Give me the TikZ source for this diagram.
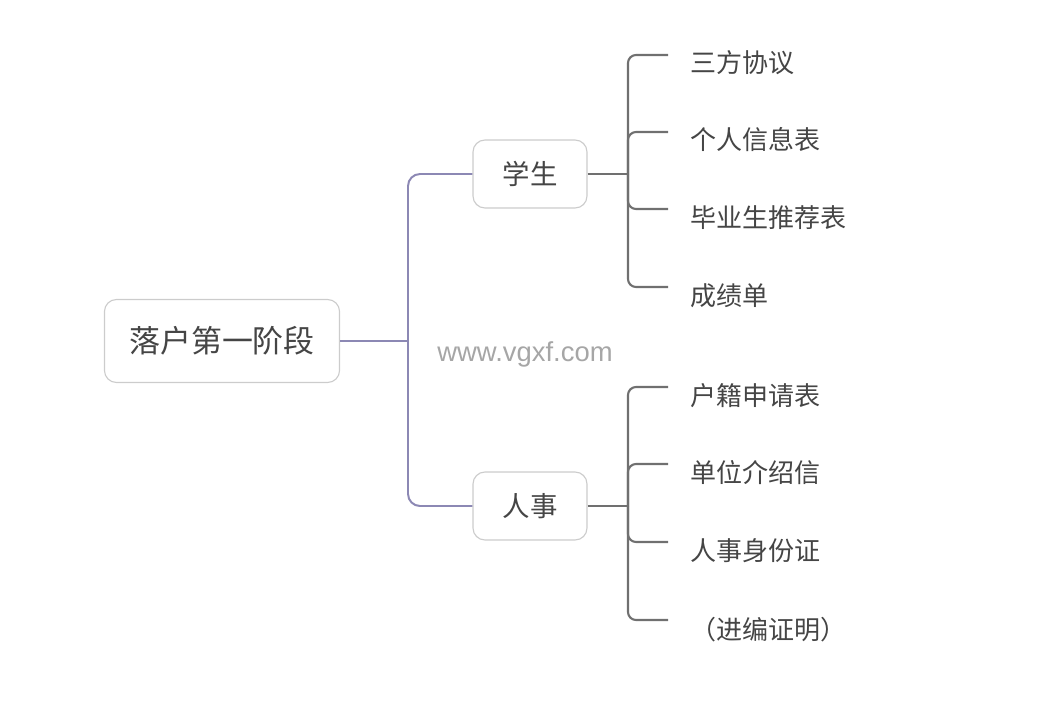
\documentclass[tikz,border=0pt]{standalone}
\usepackage{fontspec}
\setmainfont{Noto Sans CJK SC}
\newfontfamily\wmfont{Liberation Sans}
\usepackage{tikz}

\definecolor{trunkline}{HTML}{8C88B4}
\definecolor{branchline}{HTML}{707070}
\definecolor{boxline}{HTML}{CCCCCC}
\definecolor{txt}{HTML}{454545}

\tikzset{
    rootbox/.style={draw=boxline, thick, rounded corners=0.3cm, fill=white, text=txt,
        minimum width=5.875cm, minimum height=2.075cm, font=\fontsize{22}{26}\selectfont},
    subbox/.style={draw=boxline, thick, rounded corners=0.3cm, fill=white, text=txt,
        minimum width=2.85cm, minimum height=1.7cm, font=\fontsize{19.5}{23}\selectfont},
    leaf/.style={anchor=west, inner sep=0pt, text=txt, font=\fontsize{18.5}{22}\selectfont},
    trunk/.style={trunkline, line width=1.4pt},
    branch/.style={branchline, line width=1.5pt}
}

\begin{document}
\begin{tikzpicture}[x=0.025cm, y=-0.025cm]
        \useasboundingbox (0, 0) rectangle (1047, 711);

        \node[rootbox] (root) at (222, 341) {落户第一阶段};
        \node[subbox] (xs) at (530, 174) {学生};
        \node[subbox] (rs) at (530, 506) {人事};

        \coordinate (tk) at (408, 341);
        \draw[trunk] (root.east) -- (tk);
        \draw[trunk, rounded corners=0.3cm] (xs.west) -| (tk) |- (rs.west);

        % 学生
        \coordinate (xb) at (628, 174);
        \draw[branch] (xs.east) -- (xb);
        \coordinate (e1) at (668, 55);
        \coordinate (e2) at (668, 132);
        \coordinate (e3) at (668, 209);
        \coordinate (e4) at (668, 287);
        \draw[branch, rounded corners=0.2cm] (xb) |- (e1);
        \draw[branch, rounded corners=0.2cm] (xb) |- (e2);
        \draw[branch, rounded corners=0.2cm] (xb) |- (e3);
        \draw[branch, rounded corners=0.2cm] (xb) |- (e4);
        \node[leaf] (l1) at (690, 63) {三方协议};
        \node[leaf] (l2) at (690, 140) {个人信息表};
        \node[leaf] (l3) at (690, 218) {毕业生推荐表};
        \node[leaf] (l4) at (690, 296) {成绩单};

        % 人事
        \coordinate (rb) at (628, 506);
        \draw[branch] (rs.east) -- (rb);
        \coordinate (e5) at (668, 387);
        \coordinate (e6) at (668, 464);
        \coordinate (e7) at (668, 542);
        \coordinate (e8) at (668, 620);
        \draw[branch, rounded corners=0.2cm] (rb) |- (e5);
        \draw[branch, rounded corners=0.2cm] (rb) |- (e6);
        \draw[branch, rounded corners=0.2cm] (rb) |- (e7);
        \draw[branch, rounded corners=0.2cm] (rb) |- (e8);
        \node[leaf] (l5) at (690, 396) {户籍申请表};
        \node[leaf] (l6) at (690, 473) {单位介绍信};
        \node[leaf] (l7) at (690, 551) {人事身份证};
        \node[leaf] (l8) at (690, 630) {（进编证明）};

        \node[text=black!35, font=\wmfont\fontsize{19.5}{22}\selectfont] (wm) at (525, 354) {www.vgxf.com};
    \end{tikzpicture}
\end{document}
